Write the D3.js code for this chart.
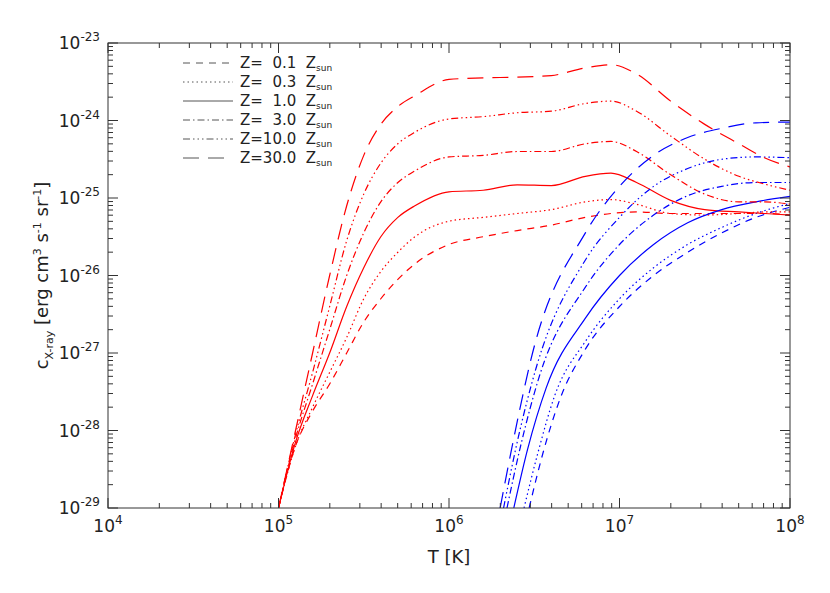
<!DOCTYPE html><html><head><script src="https://cdn.jsdelivr.net/npm/d3@7"></script>
<style>body{margin:0;background:#fff}text{font-family:"DejaVu Sans",sans-serif;fill:#222}</style></head><body>
<svg id="c" width="830" height="593"></svg>
<script>
const metallicities=["0.1","0.3","1.0","3.0","10.0","30.0"];
const dashes=["7,6","1.5,3","","7,3,1.5,3","7,3,1.5,3,1.5,3,1.5,3","16,9"];
const redLogT=[5.0,5.1,5.2,5.3,5.4,5.5,5.6,5.7,5.8,6.0,6.2,6.4,6.6,6.8,6.95,7.1,7.3,7.5,7.7,7.85,8.0];
const red={
 "0.1":[-29,-28.2,-27.75,-27.4,-27.0,-26.6,-26.3,-26.05,-25.85,-25.6,-25.5,-25.42,-25.35,-25.25,-25.2,-25.18,-25.2,-25.2,-25.2,-25.2,-25.22],
 "0.3":[-29,-28.2,-27.7,-27.25,-26.8,-26.3,-25.95,-25.7,-25.5,-25.3,-25.25,-25.2,-25.15,-25.05,-25.02,-25.08,-25.2,-25.22,-25.2,-25.18,-25.18],
 "1.0":[-29,-28.15,-27.55,-27.0,-26.4,-25.9,-25.5,-25.25,-25.1,-24.92,-24.9,-24.83,-24.84,-24.72,-24.68,-24.8,-25.03,-25.15,-25.18,-25.2,-25.22],
 "3.0":[-29,-28.1,-27.4,-26.7,-26.0,-25.45,-25.05,-24.8,-24.65,-24.47,-24.45,-24.4,-24.4,-24.3,-24.27,-24.4,-24.7,-24.95,-25.05,-25.05,-25.08],
 "10.0":[-29,-28.05,-27.25,-26.4,-25.55,-24.95,-24.55,-24.3,-24.15,-23.98,-23.95,-23.9,-23.88,-23.78,-23.75,-23.88,-24.2,-24.5,-24.72,-24.82,-24.9],
 "30.0":[-29,-28.0,-27.0,-26.0,-25.1,-24.45,-24.05,-23.82,-23.68,-23.47,-23.45,-23.44,-23.42,-23.32,-23.28,-23.4,-23.75,-24.05,-24.3,-24.48,-24.6]
};
const blueLogT={"0.1":[6.47,6.55,6.65,6.8,7.0,7.2,7.4,7.6,7.8,8.0],"0.3":[6.44,6.52,6.62,6.8,7.0,7.2,7.4,7.6,7.8,8.0],"1.0":[6.38,6.46,6.57,6.8,7.0,7.2,7.4,7.6,7.8,8.0],"3.0":[6.34,6.42,6.53,6.8,7.0,7.2,7.4,7.6,7.8,8.0],"10.0":[6.32,6.4,6.51,6.8,7.0,7.2,7.4,7.6,7.8,8.0],"30.0":[6.3,6.38,6.49,6.8,7.0,7.2,7.4,7.6,7.8,8.0]};
const blue={
 "0.1":[-29,-28.3,-27.6,-26.95,-26.4,-26.0,-25.7,-25.45,-25.25,-25.12],
 "0.3":[-29,-28.3,-27.55,-26.85,-26.3,-25.9,-25.6,-25.38,-25.2,-25.07],
 "1.0":[-29,-28.25,-27.45,-26.55,-26.0,-25.6,-25.32,-25.15,-25.05,-24.98],
 "3.0":[-29,-28.2,-27.3,-26.15,-25.6,-25.22,-24.97,-24.85,-24.8,-24.8],
 "10.0":[-29,-28.15,-27.2,-25.8,-25.25,-24.85,-24.62,-24.5,-24.47,-24.48],
 "30.0":[-29,-28.1,-27.0,-25.45,-24.85,-24.45,-24.22,-24.1,-24.03,-24.02]
};
const xTicks=[4,5,6,7,8], yTicks=[-29,-28,-27,-26,-25,-24,-23];

const svg=d3.select("#c");
const L=108,R=790,T=43,B=508;
const x=d3.scaleLinear().domain([4,8]).range([L,R]);
const y=d3.scaleLinear().domain([-29,-23]).range([B,T]);
svg.append("clipPath").attr("id","cp").append("rect").attr("x",L).attr("y",T).attr("width",R-L).attr("height",B-T);
const g=svg.append("g").attr("clip-path","url(#cp)");
const line=d3.line().x(d=>x(d[0])).y(d=>y(d[1])).curve(d3.curveMonotoneX);
metallicities.forEach((z,i)=>{
 g.append("path").attr("d",line(redLogT.map((t,j)=>[t,red[z][j]]))).attr("fill","none").attr("stroke","#f00").attr("stroke-width",1.2).attr("stroke-dasharray",dashes[i]);
 g.append("path").attr("d",line(blueLogT[z].map((t,j)=>[t,blue[z][j]]))).attr("fill","none").attr("stroke","#00f").attr("stroke-width",1.2).attr("stroke-dasharray",dashes[i]);
});
const ax="#333";
svg.append("rect").attr("x",L).attr("y",T).attr("width",R-L).attr("height",B-T).attr("fill","none").attr("stroke",ax);
const minor=[2,3,4,5,6,7,8,9].map(Math.log10);
xTicks.forEach(t=>{
 [[B,-1],[T,1]].forEach(([y0,s])=>{
  svg.append("line").attr("x1",x(t)).attr("x2",x(t)).attr("y1",y0).attr("y2",y0+s*10).attr("stroke",ax);
  if(t<8) minor.forEach(m=>svg.append("line").attr("x1",x(t+m)).attr("x2",x(t+m)).attr("y1",y0).attr("y2",y0+s*5).attr("stroke",ax));
 });
 const tx=svg.append("text").attr("x",x(t)).attr("y",B+24).attr("text-anchor","middle").attr("font-size",17);
 tx.append("tspan").text("10");tx.append("tspan").attr("dy",-8).attr("font-size",12).text(t);
});
yTicks.forEach(t=>{
 [[L,1],[R,-1]].forEach(([x0,s])=>{
  svg.append("line").attr("x1",x0).attr("x2",x0+s*10).attr("y1",y(t)).attr("y2",y(t)).attr("stroke",ax);
  if(t<-23) minor.forEach(m=>svg.append("line").attr("x1",x0).attr("x2",x0+s*5).attr("y1",y(t+m)).attr("y2",y(t+m)).attr("stroke",ax));
 });
 const tx=svg.append("text").attr("x",L-8).attr("y",y(t)+6).attr("text-anchor","end").attr("font-size",17);
 tx.append("tspan").text("10");tx.append("tspan").attr("dy",-8).attr("font-size",12).text(t);
});
svg.append("text").attr("x",(L+R)/2).attr("y",B+55).attr("text-anchor","middle").attr("font-size",18).text("T [K]");
const yl=svg.append("text").attr("transform",`translate(48,${(T+B)/2}) rotate(-90)`).attr("text-anchor","middle").attr("font-size",18);
yl.append("tspan").text("c");yl.append("tspan").attr("dy",5).attr("font-size",11).text("X-ray");
yl.append("tspan").attr("dy",-5).text(" [erg cm");yl.append("tspan").attr("dy",-7).attr("font-size",11).text("3");
yl.append("tspan").attr("dy",7).text(" s");yl.append("tspan").attr("dy",-7).attr("font-size",11).text("-1");
yl.append("tspan").attr("dy",7).text(" sr");yl.append("tspan").attr("dy",-7).attr("font-size",11).text("-1");
yl.append("tspan").attr("dy",7).text("]");
const legY=[63,82,101,120,139,158];
metallicities.forEach((z,i)=>{
 svg.append("line").attr("x1",183).attr("x2",233).attr("y1",legY[i]).attr("y2",legY[i]).attr("stroke","#555").attr("stroke-dasharray",dashes[i]);
 const tx=svg.append("text").attr("x",240).attr("y",legY[i]+5).attr("font-size",15).attr("xml:space","preserve");
 const lab=z.length<4?"Z=  "+z:"Z="+z;
 tx.append("tspan").text(lab+"  Z");tx.append("tspan").attr("dy",3).attr("font-size",9).text("sun");
});
</script></body></html>
